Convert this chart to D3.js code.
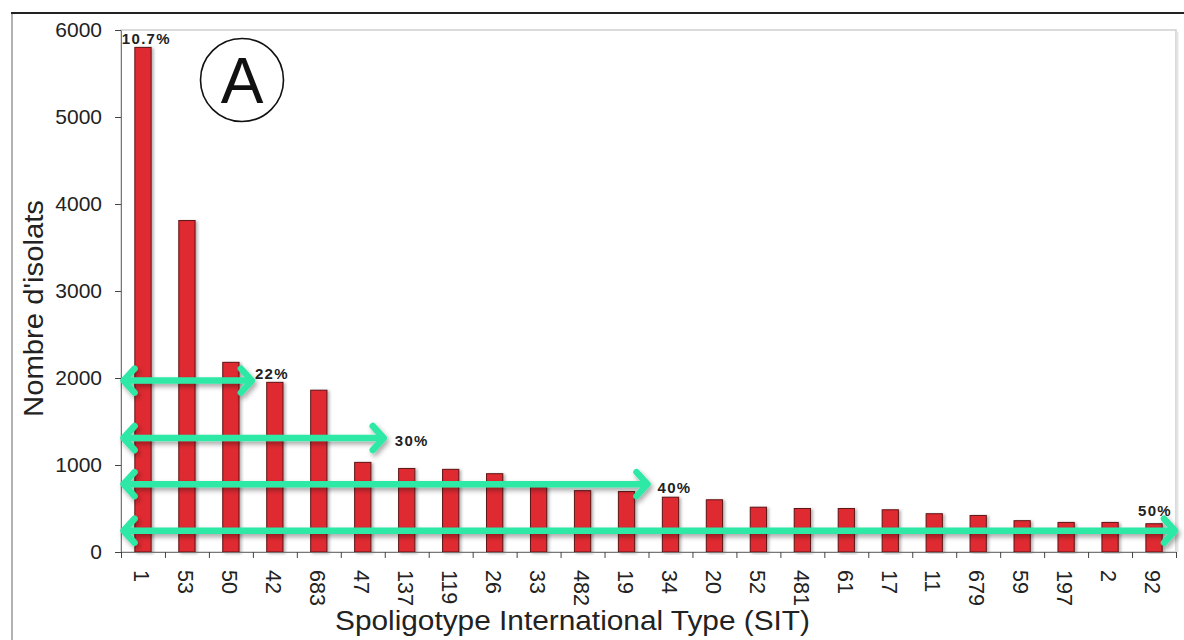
<!DOCTYPE html>
<html>
<head>
<meta charset="utf-8">
<script src="https://d3js.org/d3.v7.min.js"></script>
<style>
  body { margin: 0; background: #fff; }
  svg { display: block; font-family: "Liberation Sans", Arial, sans-serif; }
</style>
</head>
<body>
<div id="chart"></div>
<script>
// SIT categories and number of isolates
const categories = ["1", "53", "50", "42", "683", "47", "137", "119", "26", "33", "482", "19",
                    "34", "20", "52", "481", "61", "17", "11", "679", "59", "197", "2", "92"];
const counts = [5800, 3810, 2180, 1950, 1860, 1030, 960, 950, 900, 750, 705, 695,
                630, 600, 515, 500, 500, 485, 440, 420, 360, 340, 340, 325];
const yTicks = [0, 1000, 2000, 3000, 4000, 5000, 6000];

// cumulative share arrows: label, number of SITs covered, level on the y axis
const arrowLabels = ["22%", "30%", "40%", "50%"];
const arrowSpans = [3, 6, 12, 24];
const arrowLevels = [1970, 1310, 780, 245];
const firstLabel = "10.7%";

// label placement around the arrow tips
const labelShift = [[2, -7], [10, 3], [9, 3], [-38, -20]];

const width = 1184, height = 640;
const plotLeft = 121, plotRight = 1176, plotTop = 30, plotBottom = 552;

const svg = d3.select("#chart").append("svg")
    .attr("width", width)
    .attr("height", height);

const defs = svg.append("defs");
const shadow = defs.append("filter").attr("id", "shadow")
    .attr("x", "-20%").attr("y", "-50%").attr("width", "140%").attr("height", "200%");
shadow.append("feDropShadow").attr("dx", 2).attr("dy", 3).attr("stdDeviation", 2.5)
    .attr("flood-color", "#000").attr("flood-opacity", 0.35);
const barShadow = defs.append("filter").attr("id", "barShadow")
    .attr("x", "-30%").attr("y", "-5%").attr("width", "160%").attr("height", "110%");
barShadow.append("feDropShadow").attr("dx", 2).attr("dy", 1).attr("stdDeviation", 1.5)
    .attr("flood-color", "#000").attr("flood-opacity", 0.3);

// outer frame (top and left edges)
svg.append("line")
    .attr("x1", 12).attr("x2", 12).attr("y1", 14).attr("y2", height)
    .attr("stroke", "#999").attr("stroke-width", 1.5);
svg.append("line")
    .attr("x1", 11).attr("x2", width).attr("y1", 13).attr("y2", 13)
    .attr("stroke", "#222").attr("stroke-width", 2);

// plot area box
svg.append("rect")
    .attr("x", plotLeft).attr("y", plotTop)
    .attr("width", plotRight - plotLeft).attr("height", plotBottom - plotTop)
    .attr("fill", "#fff").attr("stroke", "#cfcfcf").attr("stroke-width", 1.5);
svg.append("line")
    .attr("x1", plotRight + 1.5).attr("x2", plotRight + 1.5).attr("y1", plotTop + 2).attr("y2", plotBottom)
    .attr("stroke", "#e6e6e6").attr("stroke-width", 2);

const x = d3.scaleBand().domain(categories).range([plotLeft, plotRight]).paddingInner(0.63).paddingOuter(0.315);
const xEdge = d3.scaleLinear().domain([0, categories.length]).range([plotLeft, plotRight]);
const y = d3.scaleLinear().domain([0, 6000]).range([plotBottom, plotTop]);

// bars
svg.append("g").selectAll("rect")
    .data(counts)
    .join("rect")
    .attr("x", (d, i) => x(categories[i]))
    .attr("y", d => y(d))
    .attr("width", x.bandwidth())
    .attr("height", d => y(0) - y(d))
    .attr("fill", "#e02a31")
    .attr("stroke", "#5e1414")
    .attr("stroke-width", 1)
    .attr("filter", "url(#barShadow)");

// y axis
const yAxis = svg.append("g")
    .attr("transform", `translate(${plotLeft},0)`)
    .call(d3.axisLeft(y).tickValues(yTicks).tickFormat(d3.format("d"))
        .tickSize(6).tickSizeOuter(0).tickPadding(13));
yAxis.select(".domain").attr("stroke", "#777");
yAxis.selectAll(".tick line").attr("stroke", "#444");
yAxis.selectAll(".tick text")
    .attr("font-size", 21)
    .attr("fill", "#222")
    .attr("font-family", "Liberation Sans, Arial, sans-serif");

// x axis: ticks at category boundaries
const xAxis = svg.append("g")
    .attr("transform", `translate(0,${plotBottom})`)
    .call(d3.axisBottom(xEdge).tickValues(d3.range(categories.length + 1)).tickFormat("").tickSize(6).tickSizeOuter(0));
xAxis.select(".domain").attr("stroke", "#777");
xAxis.selectAll(".tick line").attr("stroke", "#444");

svg.append("g").selectAll("text")
    .data(categories)
    .join("text")
    .attr("transform", d => `translate(${x(d) + x.bandwidth() / 2 - 1},570) rotate(90)`)
    .attr("dy", "0.36em")
    .attr("font-size", 21.5)
    .attr("fill", "#222")
    .text(d => d);

// axis titles
svg.append("text")
    .attr("transform", "translate(43,308.5) rotate(-90)")
    .attr("text-anchor", "middle")
    .attr("font-size", 27)
    .attr("textLength", 217).attr("lengthAdjust", "spacingAndGlyphs")
    .attr("fill", "#222")
    .text("Nombre d'isolats");
svg.append("text")
    .attr("x", 572.5).attr("y", 630)
    .attr("text-anchor", "middle")
    .attr("font-size", 27.5)
    .attr("textLength", 475).attr("lengthAdjust", "spacingAndGlyphs")
    .attr("fill", "#222")
    .text("Spoligotype International Type (SIT)");

// circled panel letter
svg.append("circle")
    .attr("cx", 242).attr("cy", 80).attr("r", 41.5)
    .attr("fill", "none").attr("stroke", "#111").attr("stroke-width", 1.6);
svg.append("text")
    .attr("x", 242).attr("y", 103)
    .attr("text-anchor", "middle")
    .attr("font-size", 64)
    .attr("fill", "#111")
    .text("A");

// first bar share
svg.append("text")
    .attr("x", x(categories[0]) - 13).attr("y", y(counts[0]) - 3)
    .attr("font-size", 15).attr("font-weight", "bold")
    .attr("letter-spacing", 1.3)
    .attr("fill", "#222")
    .text(firstLabel);

// cumulative arrows
const green = "#2fe8a6";
const head = 12;
const arrows = svg.append("g").attr("filter", "url(#shadow)");
arrowLabels.forEach((label, i) => {
    const x0 = plotLeft + 1.5, x1 = xEdge(arrowSpans[i]);
    const yy = y(arrowLevels[i]);
    const g = arrows.append("g");
    g.append("line")
        .attr("x1", x0 + 2).attr("x2", x1 - 2)
        .attr("y1", yy).attr("y2", yy)
        .attr("stroke", green).attr("stroke-width", 6.5);
    g.append("path")
        .attr("d", `M${x0 + head},${yy - head} L${x0 + 1},${yy} L${x0 + head},${yy + head}`)
        .attr("fill", "none").attr("stroke", green).attr("stroke-width", 6.5)
        .attr("stroke-linecap", "round").attr("stroke-linejoin", "round");
    g.append("path")
        .attr("d", `M${x1 - head},${yy - head} L${x1 - 1},${yy} L${x1 - head},${yy + head}`)
        .attr("fill", "none").attr("stroke", green).attr("stroke-width", 6.5)
        .attr("stroke-linecap", "round").attr("stroke-linejoin", "round");
});
arrowLabels.forEach((label, i) => {
    svg.append("text")
        .attr("x", xEdge(arrowSpans[i]) + labelShift[i][0])
        .attr("y", y(arrowLevels[i]) + labelShift[i][1])
        .attr("dy", "0.36em")
        .attr("font-size", 15).attr("font-weight", "bold")
        .attr("letter-spacing", 1.3)
        .attr("fill", "#222")
        .text(label);
});
</script>
</body>
</html>
